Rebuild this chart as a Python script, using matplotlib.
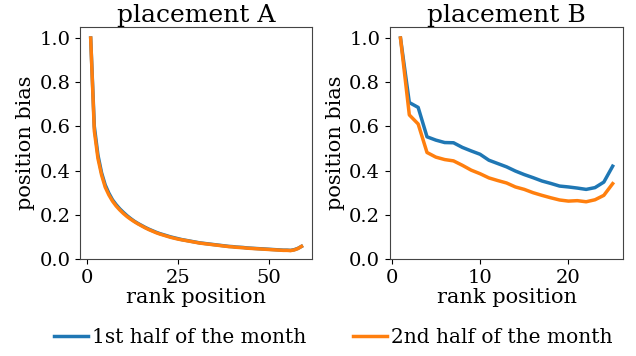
import matplotlib.pyplot as plt
import numpy as np

# placement A: ranks 1..59
rank_a = list(range(1, 60))
first_a = [1.0, 0.60, 0.47, 0.39, 0.335, 0.298, 0.268, 0.246, 0.227, 0.211,
           0.196, 0.183, 0.171, 0.161, 0.152, 0.143, 0.135, 0.128, 0.121, 0.115,
           0.110, 0.105, 0.100, 0.096, 0.092, 0.088, 0.085, 0.082, 0.079, 0.076,
           0.073, 0.071, 0.069, 0.067, 0.065, 0.063, 0.061, 0.059, 0.057, 0.056,
           0.054, 0.053, 0.052, 0.050, 0.049, 0.048, 0.047, 0.046, 0.045, 0.044,
           0.043, 0.042, 0.041, 0.040, 0.040, 0.039, 0.042, 0.048, 0.057]
second_a = [1.0, 0.58, 0.455, 0.38, 0.325, 0.29, 0.262, 0.240, 0.222, 0.206,
            0.192, 0.180, 0.169, 0.159, 0.150, 0.141, 0.133, 0.126, 0.119, 0.113,
            0.108, 0.103, 0.098, 0.094, 0.090, 0.087, 0.084, 0.081, 0.078, 0.075,
            0.072, 0.070, 0.068, 0.066, 0.064, 0.062, 0.060, 0.058, 0.056, 0.055,
            0.053, 0.052, 0.051, 0.049, 0.048, 0.047, 0.046, 0.045, 0.044, 0.043,
            0.042, 0.041, 0.040, 0.039, 0.039, 0.038, 0.041, 0.047, 0.057]

# placement B: ranks 1..25
rank_b = list(range(1, 26))
first_b = [1.0, 0.708, 0.686, 0.553, 0.538, 0.527, 0.526, 0.505, 0.489, 0.474,
           0.447, 0.432, 0.417, 0.398, 0.382, 0.368, 0.353, 0.342, 0.330, 0.326,
           0.321, 0.315, 0.323, 0.348, 0.420]
second_b = [1.0, 0.652, 0.611, 0.482, 0.461, 0.450, 0.444, 0.424, 0.402, 0.386,
            0.367, 0.355, 0.344, 0.326, 0.315, 0.300, 0.288, 0.277, 0.267, 0.262,
            0.264, 0.259, 0.268, 0.288, 0.341]

labels = ['1st half of the month', '2nd half of the month']

plt.rcParams['font.family'] = 'DejaVu Serif'
plt.rcParams['font.size'] = 14

fig = plt.figure(figsize=(6.36, 3.56), dpi=100)
ax1 = fig.add_axes([0.126, 0.2725, 0.3646, 0.6517])
ax2 = fig.add_axes([0.613, 0.2725, 0.367, 0.6517])

for ax, x, a, b, title, ticks in [(ax1, rank_a, first_a, second_a, 'placement A', [0, 25, 50]),
                                  (ax2, rank_b, first_b, second_b, 'placement B', [0, 10, 20])]:
    ax.plot(x, a, color='tab:blue', lw=2.5, label=labels[0])
    ax.plot(x, b, color='tab:orange', lw=2.5, label=labels[1])
    ax.set_title(title, fontsize=18, pad=3)
    ax.set_xlabel('rank position', fontsize=15, labelpad=1)
    ax.set_ylabel('position bias', fontsize=15, labelpad=3)
    ax.set_ylim(0, 1.05)
    ax.set_xticks(ticks)
    ax.set_yticks(np.arange(0, 1.01, 0.2))
    for s in ax.spines.values():
        s.set_color('#444444')

handles, labs = ax1.get_legend_handles_labels()
fig.legend(handles, labs, loc='center', ncol=2, frameon=False,
           bbox_to_anchor=(0.524, 0.053), columnspacing=2.3, handlelength=1.7,
           handletextpad=0.2, prop={'family': 'DejaVu Serif', 'size': 14.5})

fig.savefig('out.png', dpi=100)
